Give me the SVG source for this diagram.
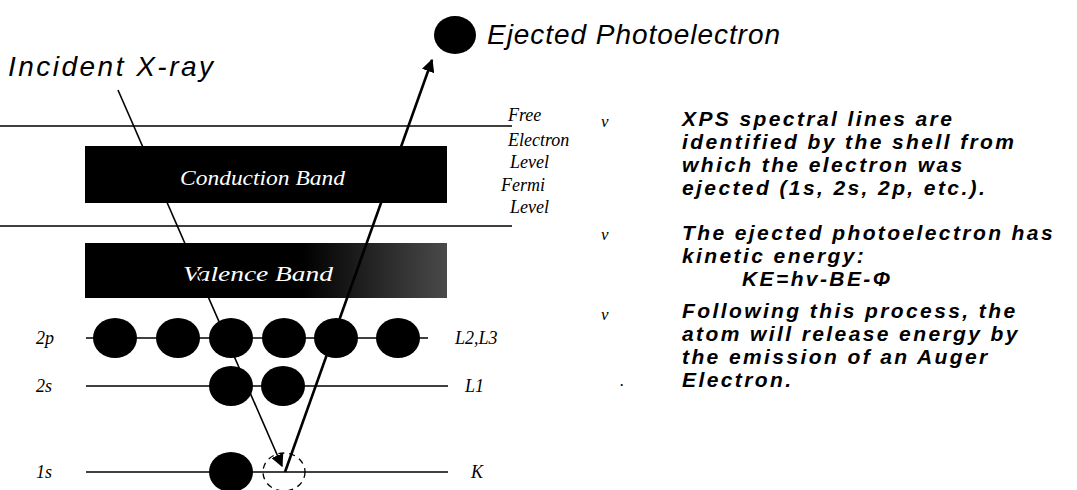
<svg xmlns="http://www.w3.org/2000/svg" width="1077" height="490" viewBox="0 0 1077 490">
<style>
.lvl{stroke:#000;stroke-width:1.5;fill:none}
.e{fill:#000}
.lab{font-family:"Liberation Serif",serif;font-style:italic;font-size:18px;fill:#000}
.band{font-family:"Liberation Serif",serif;font-style:italic;font-size:21px;fill:#fff}
.title{font-family:"Liberation Sans",Arial,sans-serif;font-style:italic;font-size:28px;fill:#000}
.body{font-family:"Liberation Sans",Arial,sans-serif;font-style:italic;font-weight:bold;font-size:21px;letter-spacing:2.4px;fill:#000}
.bul{font-family:"Liberation Serif",serif;font-style:italic;font-size:17px;fill:#000}
</style>
<defs>
<linearGradient id="vg" x1="0" y1="0" x2="1" y2="0">
<stop offset="0" stop-color="#000"/>
<stop offset="0.6" stop-color="#000"/>
<stop offset="1" stop-color="#4a4a4a"/>
</linearGradient>
<marker id="ah" viewBox="0 0 10 10" refX="9" refY="5" markerWidth="5" markerHeight="5" orient="auto" markerUnits="strokeWidth">
<path d="M0,0 L10,5 L0,10 z" fill="#000"/>
</marker>
<marker id="ah2" viewBox="0 0 10 10" refX="9" refY="5" markerWidth="8" markerHeight="8" orient="auto" markerUnits="strokeWidth">
<path d="M0,0 L10,5 L0,10 z" fill="#000"/>
</marker>
</defs>
<rect width="1077" height="490" fill="#fff"/>

<g id="levels">
<line class="lvl" x1="0" y1="126" x2="512" y2="126"/>
<line class="lvl" x1="0" y1="226" x2="512" y2="226"/>
<line class="lvl" x1="86" y1="338" x2="428" y2="338"/>
<line class="lvl" x1="86" y1="386" x2="448" y2="386"/>
<line class="lvl" x1="86" y1="472" x2="448" y2="472"/>
</g>

<g id="conduction-band">
<rect x="85" y="146" width="362" height="57" fill="#000"/>
<text class="band" x="180" y="185" textLength="165" lengthAdjust="spacingAndGlyphs">Conduction Band</text>
</g>
<g id="valence-band">
<rect x="85" y="243" width="362" height="55" fill="url(#vg)"/>
<text class="band" x="183" y="281" textLength="150" lengthAdjust="spacingAndGlyphs" fill="#ddd">Valence Band</text>
</g>

<g id="connectors">
<line x1="118" y1="90" x2="282" y2="466" stroke="#000" stroke-width="1.6" marker-end="url(#ah2)"/>
<line x1="285" y1="472" x2="432" y2="60" stroke="#000" stroke-width="2.6" marker-end="url(#ah)"/>
</g>

<g id="electrons-2p">
<ellipse class="e" cx="115" cy="338" rx="22" ry="20"/>
<ellipse class="e" cx="178" cy="338" rx="22" ry="20"/>
<ellipse class="e" cx="231" cy="338" rx="22" ry="20"/>
<ellipse class="e" cx="284" cy="338" rx="22" ry="20"/>
<ellipse class="e" cx="336" cy="338" rx="22" ry="20"/>
<ellipse class="e" cx="398" cy="338" rx="22" ry="20"/>
</g>
<g id="electrons-2s">
<ellipse class="e" cx="231" cy="386" rx="22" ry="20"/>
<ellipse class="e" cx="283" cy="386" rx="22" ry="20"/>
</g>
<g id="electrons-1s">
<ellipse class="e" cx="231" cy="472" rx="22" ry="20"/>
<ellipse cx="284" cy="472" rx="21" ry="19" fill="none" stroke="#000" stroke-width="1.3" stroke-dasharray="6,5"/>
</g>
<g id="photoelectron">
<ellipse class="e" cx="455" cy="35" rx="21" ry="19"/>
<text class="title" x="487" y="44" textLength="293" lengthAdjust="spacing">Ejected Photoelectron</text>
</g>
<g id="incident-label">
<text class="title" x="8" y="76" textLength="205" lengthAdjust="spacing">Incident X-ray</text>
</g>

<g id="shell-labels">
<text class="lab" x="36" y="344">2p</text>
<text class="lab" x="36" y="392">2s</text>
<text class="lab" x="36" y="478">1s</text>
<text class="lab" x="455" y="344">L2,L3</text>
<text class="lab" x="465" y="392">L1</text>
<text class="lab" x="471" y="478">K</text>
<text class="lab" x="508" y="121">Free</text>
<text class="lab" x="508" y="146">Electron</text>
<text class="lab" x="510" y="168">Level</text>
<text class="lab" x="501" y="191">Fermi</text>
<text class="lab" x="510" y="213">Level</text>
</g>

<g id="notes">
<text class="bul" x="601" y="127">v</text>
<text class="bul" x="601" y="240">v</text>
<text class="bul" x="601" y="320">v</text>
<text class="bul" x="620" y="386">.</text>
<text class="body" x="682" y="126">XPS spectral lines are</text>
<text class="body" x="682" y="149">identified by the shell from</text>
<text class="body" x="682" y="172">which the electron was</text>
<text class="body" x="682" y="195">ejected (1s, 2s, 2p, etc.).</text>
<text class="body" x="682" y="240">The ejected photoelectron has</text>
<text class="body" x="682" y="263">kinetic energy:</text>
<text class="body" x="742" y="286" font-weight="normal">KE=hv-BE-Φ</text>
<text class="body" x="682" y="318">Following this process, the</text>
<text class="body" x="682" y="341">atom will release energy by</text>
<text class="body" x="682" y="364">the emission of an Auger</text>
<text class="body" x="682" y="387">Electron.</text>
</g>
</svg>
